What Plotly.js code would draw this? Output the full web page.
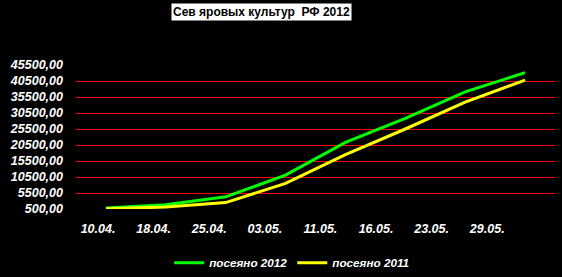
<!DOCTYPE html>
<html><head><meta charset="utf-8">
<script src="https://cdn.plot.ly/plotly-3.0.1.min.js"></script>
<style>html,body{margin:0;padding:0;background:#000;}</style>
</head><body>
<div id="chart" style="width:562px;height:277px;"></div>
<script>
const dates = ["10.04.", "18.04.", "25.04.", "03.05.", "11.05.", "16.05.", "23.05.", "29.05."];
const sown2012 = [800, 1800, 4300, 11100, 21300, 28800, 37100, 43100];
const sown2011 = [600, 1100, 2500, 8500, 17500, 25500, 33900, 40800];
const yTicks = [500, 5500, 10500, 15500, 20500, 25500, 30500, 35500, 40500, 45500];
const yTickText = yTicks.map(v => v.toFixed(2).replace('.', ','));

const lblFont = {family: "Liberation Sans, Arial, sans-serif", size: 12.5, color: "#ffffff", weight: "bold", style: "italic"};
const legFont = {family: "Liberation Sans, Arial, sans-serif", size: 11.7, color: "#ffffff", weight: "bold", style: "italic"};

const traces = [
  {x: dates, y: sown2012, type: "scatter", mode: "lines", name: "посеяно 2012",
   line: {color: "#00ff00", width: 3}},
  {x: dates, y: sown2011, type: "scatter", mode: "lines", name: "посеяно 2011",
   line: {color: "#ffff00", width: 3}},
  {x: dates, y: dates.map(() => null), xaxis: "x2", type: "scatter", mode: "lines",
   showlegend: false, hoverinfo: "skip"}
];

const layout = {
  width: 562, height: 277,
  paper_bgcolor: "#000000", plot_bgcolor: "#000000",
  margin: {l: 76, r: 7, t: 65, b: 68},
  showlegend: true,
  xaxis: {type: "category", range: [-0.5, 7.5], showticklabels: false,
          showgrid: false, zeroline: false, showline: false, ticks: ""},
  xaxis2: {type: "category", overlaying: "x", side: "bottom", range: [-0.396, 8.219],
           tickvals: dates, ticktext: dates, showgrid: false, zeroline: false,
           showline: false, ticks: "", tickfont: lblFont, ticklabelstandoff: 10},
  yaxis: {range: [500, 45500], tickvals: yTicks, ticktext: yTickText,
          showgrid: true, gridcolor: "#ff0000", gridwidth: 1, zeroline: false,
          showline: false, ticks: "", tickfont: lblFont, ticklabelstandoff: 12},
  legend: {orientation: "h", xref: "container", yref: "container",
           x: 0.519, y: 0.0516, xanchor: "center", yanchor: "middle",
           font: legFont, bgcolor: "rgba(0,0,0,0)", itemwidth: 30, tracegroupgap: 0},
  annotations: [{
    text: "Сев яровых культур  РФ 2012", xref: "paper", yref: "paper",
    x: 0.387, y: 1.365, xanchor: "center", yanchor: "middle", showarrow: false,
    bgcolor: "#ffffff", borderpad: 1,
    font: {family: "Liberation Sans, Arial, sans-serif", size: 12, color: "#000000", weight: "bold"}
  }]
};

Plotly.newPlot("chart", traces, layout, {displayModeBar: false, staticPlot: true});
</script>
</body></html>
